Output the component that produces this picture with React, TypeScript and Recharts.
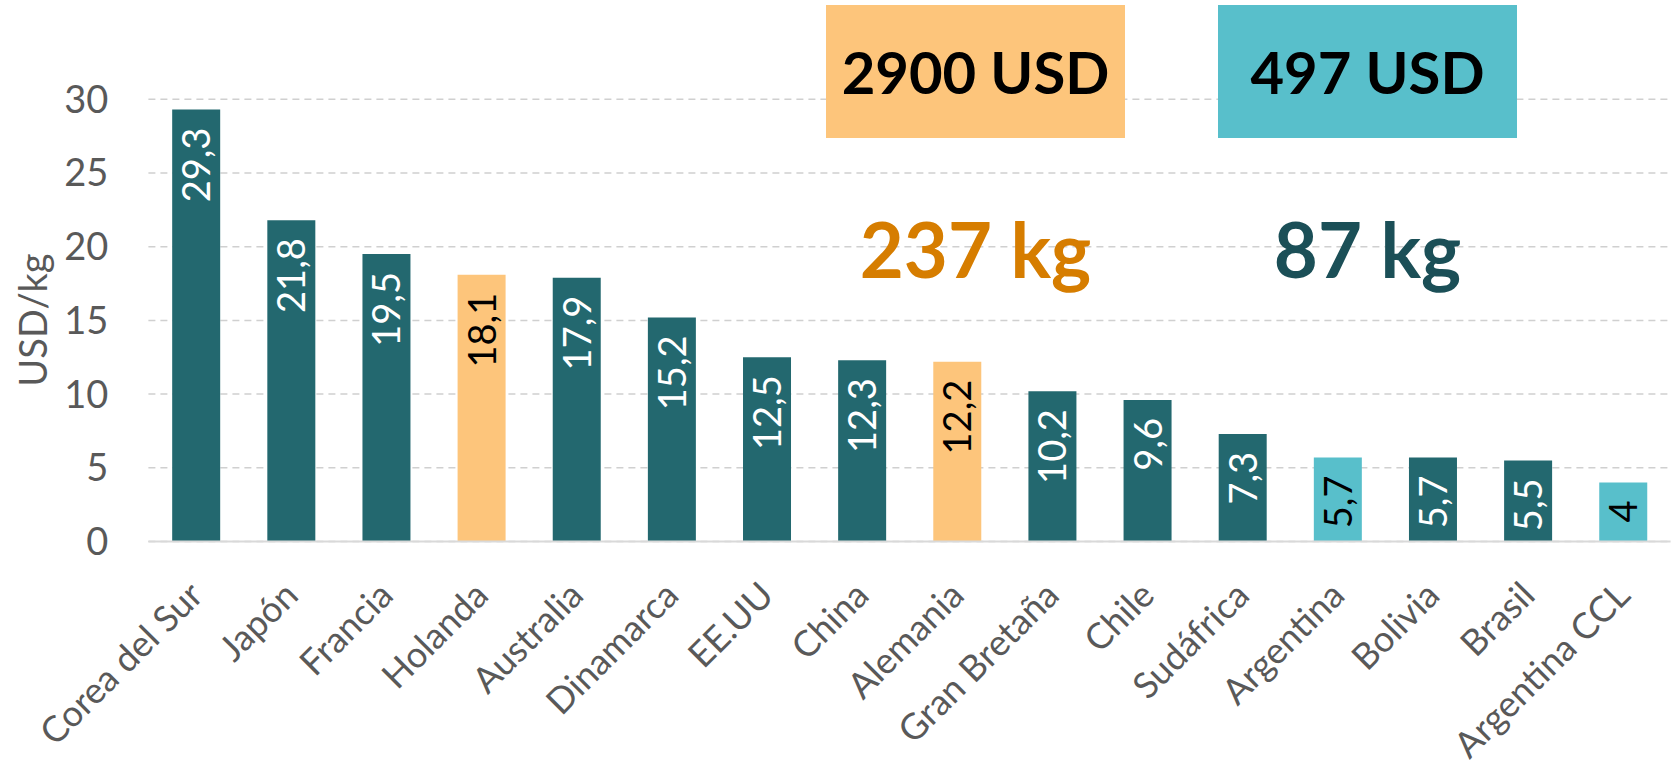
import { BarChart, Bar, XAxis, YAxis, CartesianGrid, Cell, LabelList } from 'recharts';

// precio por kg, de mayor a menor
const countries = [
  'Corea del Sur', 'Japón', 'Francia', 'Holanda', 'Australia', 'Dinamarca', 'EE.UU', 'China',
  'Alemania', 'Gran Bretaña', 'Chile', 'Sudáfrica', 'Argentina', 'Bolivia', 'Brasil', 'Argentina CCL',
];
const prices = [29.3, 21.8, 19.5, 18.1, 17.9, 15.2, 12.5, 12.3, 12.2, 10.2, 9.6, 7.3, 5.7, 5.7, 5.5, 4];
// which comparison group each country belongs to ('' = none)
const groups = ['', '', '', 'eu', '', '', '', '', 'eu', '', '', '', 'ar', '', '', 'ar'];
const yTicks = [0, 5, 10, 15, 20, 25, 30];

const notes = [
  { group: 'eu', usd: '2900 USD', kg: '237 kg' },
  { group: 'ar', usd: '497 USD', kg: '87 kg' },
];

const W = 1675;
const H = 772;
const FONT = 'Lato, "Open Sans", sans-serif';

const barFill: Record<string, string> = { '': '#23686F', eu: '#FDC57B', ar: '#58BFCB' };
const labelFill: Record<string, string> = { '': '#FFFFFF', eu: '#000000', ar: '#000000' };
const noteText: Record<string, string> = { eu: '#D67D00', ar: '#1B4F57' };

const data = countries.map((name, i) => ({ name, price: prices[i], group: groups[i] }));

const fmt = (v: number) => String(v).replace('.', ',');

function CountryTick(props: any) {
  const { x, y, payload } = props;
  return (
    <g transform={`translate(${x + 9},${y + 56})`}>
      <text
        textAnchor="end"
        transform="rotate(-45)"
        fill="#595959"
        fontSize={36}
        fontFamily={FONT}
      >
        {payload.value}
      </text>
    </g>
  );
}

function ValueLabel(props: any) {
  const { x, y, width, value, index } = props;
  const cx = x + width / 2;
  return (
    <text
      transform={`translate(${cx + 14},${y + 18}) rotate(-90)`}
      textAnchor="end"
      fill={labelFill[groups[index]]}
      fontSize={38}
      fontFamily={FONT}
    >
      {fmt(value)}
    </text>
  );
}

function AxisTitle() {
  return (
    <text
      x={47}
      y={320}
      transform="rotate(-90, 47, 320)"
      textAnchor="middle"
      fill="#595959"
      fontSize={38}
      fontFamily={FONT}
    >
      USD/kg
    </text>
  );
}

export default function App() {
  const boxX = [826, 1218];
  return (
    <div style={{ position: 'relative', width: W, height: H }}>
      <style>{'body{margin:0}'}</style>
      <BarChart
        width={W}
        height={H}
        data={data}
        margin={{ top: 99.3, right: 4.4, left: 0, bottom: 30.5 }}
        barCategoryGap="25%"
      >
        <CartesianGrid vertical={false} stroke="#D0D0D0" strokeWidth={1.5} strokeDasharray="7 5" />
        <XAxis
          dataKey="name"
          interval={0}
          height={200}
          tickLine={false}
          tickSize={0}
          tickMargin={0}
          axisLine={{ stroke: '#D9D9D9', strokeWidth: 2 }}
          tick={<CountryTick />}
        />
        <YAxis
          width={148.4}
          domain={[0, 30]}
          ticks={yTicks}
          tickLine={false}
          axisLine={false}
          tickSize={0}
          tickMargin={40}
          tick={{ fill: '#595959', fontSize: 38, fontFamily: FONT }}
          label={{ content: () => <AxisTitle /> }}
        />
        <Bar dataKey="price" isAnimationActive={false}>
          {data.map((d, i) => (
            <Cell key={i} fill={barFill[d.group]} />
          ))}
          <LabelList dataKey="price" content={<ValueLabel />} />
        </Bar>
      </BarChart>
      <svg
        width={W}
        height={H}
        style={{ position: 'absolute', left: 0, top: 0, pointerEvents: 'none' }}
      >
        {notes.map((n, i) => (
          <g key={n.group}>
            <rect x={boxX[i]} y={5} width={299} height={133} fill={barFill[n.group]} />
            <text
              x={boxX[i] + 149.5}
              y={94}
              textAnchor="middle"
              fontSize={58}
              fontWeight={700}
              fontFamily={FONT}
              fill="#000000"
            >
              {n.usd}
            </text>
            <text
              x={boxX[i] + 149.5}
              y={278}
              textAnchor="middle"
              fontSize={76}
              fontWeight={700}
              fontFamily={FONT}
              fill={noteText[n.group]}
            >
              {n.kg}
            </text>
          </g>
        ))}
      </svg>
    </div>
  );
}
